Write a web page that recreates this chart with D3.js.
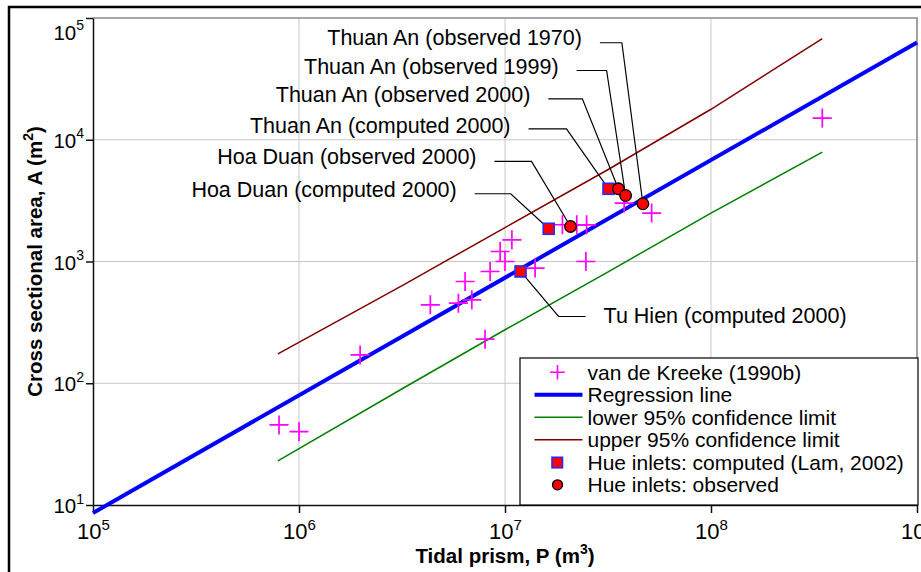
<!DOCTYPE html>
<html>
<head>
<meta charset="utf-8">
<script src="https://cdn.jsdelivr.net/npm/d3@7/dist/d3.min.js"></script>
<style>
body { margin: 0; background: #fff; }
svg { display: block; font-family: "Liberation Sans", Arial, sans-serif; }
.grid line { stroke: #c8c8c8; stroke-width: 1; }
.axis path, .axis line { stroke: #111; stroke-width: 1.5; }
.leader { fill: none; stroke: #000; stroke-width: 1.2; }
</style>
</head>
<body>
<svg id="chart" width="921" height="572"></svg>
<script>
// axis decades (powers of ten)
var xPowers = [5, 6, 7, 8, 9];
var yPowers = [1, 2, 3, 4, 5];

// van de Kreeke (1990b) inlets: tidal prism P (m3), cross section A (m2)
var kreekeP = [8.0e5, 1.0e6, 1.98e6, 4.34e6, 5.94e6, 6.9e6, 6.4e6, 8.47e6, 9.47e6, 1.0e7,
               1.08e7, 1.40e7, 2.47e7, 8.0e6, 1.90e7, 2.23e7, 2.49e7, 3.79e7, 5.15e7, 3.47e8];
var kreekeA = [45.5, 40, 171, 441, 455, 484, 685, 828, 1208, 1000,
               1507, 883, 1000, 230, 2003, 2000, 2000, 3020, 2500, 15070];

// regression line and 95% confidence limits
var regP = [1e5, 1e9];
var regA = [8.6, 63000];
var upperP = [7.9e5, 3.2e6, 1.0e7, 3.2e7, 1.0e8, 3.47e8];
var upperA = [174, 640, 1900, 5750, 17800, 67600];
var lowerP = [7.9e5, 3.2e6, 1.0e7, 3.2e7, 1.0e8, 3.47e8];
var lowerA = [23, 91, 275, 830, 2500, 7900];

// Hue inlets
var computedNames = ["Hoa Duan (computed 2000)", "Thuan An (computed 2000)", "Tu Hien (computed 2000)"];
var computedP = [1.63e7, 3.18e7, 1.19e7];
var computedA = [1857, 3955, 828];
var observedNames = ["Hoa Duan (observed 2000)", "Thuan An (observed 2000)", "Thuan An (observed 1999)", "Thuan An (observed 1970)"];
var observedP = [2.08e7, 3.55e7, 3.85e7, 4.67e7];
var observedA = [1940, 3955, 3485, 2980];

var legendLabels = ["van de Kreeke (1990b)", "Regression line", "lower 95% confidence limit",
                    "upper 95% confidence limit", "Hue inlets: computed (Lam, 2002)", "Hue inlets: observed"];

// leader layout: elbow offset from the point, horizontal run, text shift
var leaderLayout = {
  "Hoa Duan (computed 2000)": {dx: -38, dy: -35, run: -36, ty: -4.5},
  "Hoa Duan (observed 2000)": {dx: -39, dy: -65, run: -37, ty: -5.5},
  "Thuan An (computed 2000)": {dx: -42, dy: -60, run: -38, ty: -3.5},
  "Thuan An (observed 2000)": {dx: -36, dy: -90, run: -34, ty: -4.5},
  "Thuan An (observed 1999)": {dx: -19, dy: -125, run: -30, ty: -4.5},
  "Thuan An (observed 1970)": {dx: -21, dy: -161, run: -22, ty: -5},
  "Tu Hien (computed 2000)": {dx: 38, dy: 45, run: 27, ty: -1}
};

var svg = d3.select("#chart"),
    margin = {top: 18, right: 4, bottom: 67, left: 93},
    width = +svg.attr("width") - margin.left - margin.right,
    height = +svg.attr("height") - margin.top - margin.bottom;

// outer frame
svg.append("rect")
    .attr("x", 9).attr("y", 7)
    .attr("width", 960).attr("height", 620)
    .attr("fill", "none")
    .attr("stroke", "#000")
    .attr("stroke-width", 2.5);

var g = svg.append("g").attr("transform", "translate(" + margin.left + "," + margin.top + ")");

var x = d3.scaleLog().domain([1e5, 1e9]).range([0, width]);
var y = d3.scaleLog().domain([1e1, 1e5]).range([height, 0]);

var xTicks = xPowers.map(function(p) { return Math.pow(10, p); });
var yTicks = yPowers.map(function(p) { return Math.pow(10, p); });

// grid
var grid = g.append("g").attr("class", "grid");
grid.selectAll(".gx")
  .data(xTicks.slice(1, -1))
  .enter().append("line")
    .attr("x1", x).attr("x2", x)
    .attr("y1", 0).attr("y2", height);
grid.selectAll(".gy")
  .data(yTicks.slice(1, -1))
  .enter().append("line")
    .attr("y1", y).attr("y2", y)
    .attr("x1", 0).attr("x2", width);

// top and right border
g.append("path")
    .attr("d", "M0,0H" + width + "V" + height)
    .attr("fill", "none")
    .attr("stroke", "#8a8a8a")
    .attr("stroke-width", 1.6);

// axes
var xAxisG = g.append("g")
    .attr("class", "axis")
    .attr("transform", "translate(0," + height + ")")
    .call(d3.axisBottom(x).tickValues(xTicks).tickSize(8).tickSizeOuter(0).tickFormat(""));
var yAxisG = g.append("g")
    .attr("class", "axis")
    .call(d3.axisLeft(y).tickValues(yTicks).tickSize(7).tickSizeOuter(0).tickFormat(""));

function powerLabel(sel, p, big, small, rise) {
  sel.append("tspan").attr("font-size", big).text("10");
  sel.append("tspan").attr("font-size", small).attr("dy", -rise).text(p);
}

xAxisG.selectAll(".tick").each(function(d, i) {
  var t = d3.select(this).append("text")
      .attr("fill", "#000")
      .attr("y", 34)
      .attr("text-anchor", "middle");
  powerLabel(t, xPowers[i], "22px", "15px", 9.5);
});
yAxisG.selectAll(".tick").each(function(d, i) {
  var top = yPowers[i] === 5;
  var t = d3.select(this).append("text")
      .attr("fill", "#000")
      .attr("x", -9)
      .attr("y", top ? 21 : 7.5)
      .attr("text-anchor", "end");
  powerLabel(t, yPowers[i], "20.5px", "14px", 9.3);
});

// axis titles
var xt = svg.append("text")
    .attr("x", margin.left + width / 2)
    .attr("y", 563)
    .attr("text-anchor", "middle")
    .attr("font-weight", "bold")
    .attr("font-size", "20.5px")
    .text("Tidal prism, P (m");
xt.append("tspan").attr("font-size", "14px").attr("dy", -9).text("3");
xt.append("tspan").attr("dy", 9).text(")");

var yt = svg.append("text")
    .attr("transform", "translate(41.5," + (margin.top + height / 2) + ") rotate(-90)")
    .attr("text-anchor", "middle")
    .attr("font-weight", "bold")
    .attr("font-size", "20.5px")
    .text("Cross sectional area, A (m");
yt.append("tspan").attr("font-size", "14px").attr("dy", -9).text("2");
yt.append("tspan").attr("dy", 9).text(")");

// lines
var line = d3.line()
    .x(function(d) { return x(d[0]); })
    .y(function(d) { return y(d[1]); });

g.append("path")
    .datum(d3.zip(lowerP, lowerA))
    .attr("d", line)
    .attr("fill", "none")
    .attr("stroke", "#008000")
    .attr("stroke-width", 1.5);
g.append("path")
    .datum(d3.zip(upperP, upperA))
    .attr("d", line)
    .attr("fill", "none")
    .attr("stroke", "#800000")
    .attr("stroke-width", 1.5);
g.append("path")
    .datum(d3.zip(regP, regA))
    .attr("d", line)
    .attr("fill", "none")
    .attr("stroke", "#0000ff")
    .attr("stroke-width", 4);

// van de Kreeke crosses
var cross = function(s) { return "M" + (-s) + ",0H" + s + "M0," + (-s) + "V" + s; };
g.selectAll(".kreeke")
    .data(d3.zip(kreekeP, kreekeA))
  .enter().append("path")
    .attr("class", "kreeke")
    .attr("d", cross(9.5))
    .attr("transform", function(d) { return "translate(" + x(d[0]) + "," + y(d[1]) + ")"; })
    .attr("stroke", "#ff00ff")
    .attr("stroke-width", 1.7);

// leaders and labels
var hue = d3.zip(computedNames, computedP, computedA).concat(d3.zip(observedNames, observedP, observedA));
hue.forEach(function(d) {
  var L = leaderLayout[d[0]],
      px = x(d[1]), py = y(d[2]),
      ex = px + L.dx, ey = py + L.dy,
      sx = ex + L.run;
  g.append("path")
      .attr("class", "leader")
      .attr("d", "M" + px + "," + py + "L" + ex + "," + ey + "H" + sx);
  g.append("text")
      .attr("x", sx + (L.run < 0 ? -18 : 18))
      .attr("y", ey + L.ty + 7.7)
      .attr("text-anchor", L.run < 0 ? "end" : "start")
      .attr("font-size", "21.5px")
      .text(d[0]);
});

// Hue inlets markers
g.selectAll(".computed")
    .data(d3.zip(computedP, computedA))
  .enter().append("rect")
    .attr("class", "computed")
    .attr("x", function(d) { return x(d[0]) - 5.5; })
    .attr("y", function(d) { return y(d[1]) - 5.5; })
    .attr("width", 11).attr("height", 11)
    .attr("fill", "#ff0000")
    .attr("stroke", "#2a2aff")
    .attr("stroke-width", 1.6);
g.selectAll(".observed")
    .data(d3.zip(observedP, observedA))
  .enter().append("circle")
    .attr("class", "observed")
    .attr("cx", function(d) { return x(d[0]); })
    .attr("cy", function(d) { return y(d[1]); })
    .attr("r", 5.8)
    .attr("fill", "#ff0000")
    .attr("stroke", "#000")
    .attr("stroke-width", 1.3);

// legend
var lw = 398, lh = 147;
var legend = g.append("g")
    .attr("transform", "translate(" + (width - lw + 1) + "," + (height - lh) + ")");
legend.append("rect")
    .attr("width", lw).attr("height", lh)
    .attr("fill", "#fff")
    .attr("stroke", "#000")
    .attr("stroke-width", 1.2);

var rows = legend.selectAll(".row")
    .data(legendLabels)
  .enter().append("g")
    .attr("transform", function(d, i) { return "translate(0," + (14.3 + i * 22.5) + ")"; });
rows.append("text")
    .attr("x", 67.5)
    .attr("y", 7.5)
    .attr("font-size", "21px")
    .text(function(d) { return d; });

var sym = function(i) { return d3.select(rows.nodes()[i]); };
sym(0).append("path").attr("d", cross(7.3)).attr("transform", "translate(37.5,0)")
    .attr("stroke", "#ff00ff").attr("stroke-width", 1.6);
[["#0000ff", 4], ["#008000", 1.5], ["#800000", 1.5]].forEach(function(s, k) {
  sym(k + 1).append("line")
      .attr("x1", 14.5).attr("x2", 62.5)
      .attr("stroke", s[0]).attr("stroke-width", s[1]);
});
sym(4).append("rect").attr("x", 32).attr("y", -5).attr("width", 10.5).attr("height", 10.5)
    .attr("fill", "#ff0000").attr("stroke", "#2a2aff").attr("stroke-width", 1.6);
sym(5).append("circle").attr("cx", 37.5).attr("r", 5)
    .attr("fill", "#ff0000").attr("stroke", "#000").attr("stroke-width", 1.3);
</script>
</body>
</html>
